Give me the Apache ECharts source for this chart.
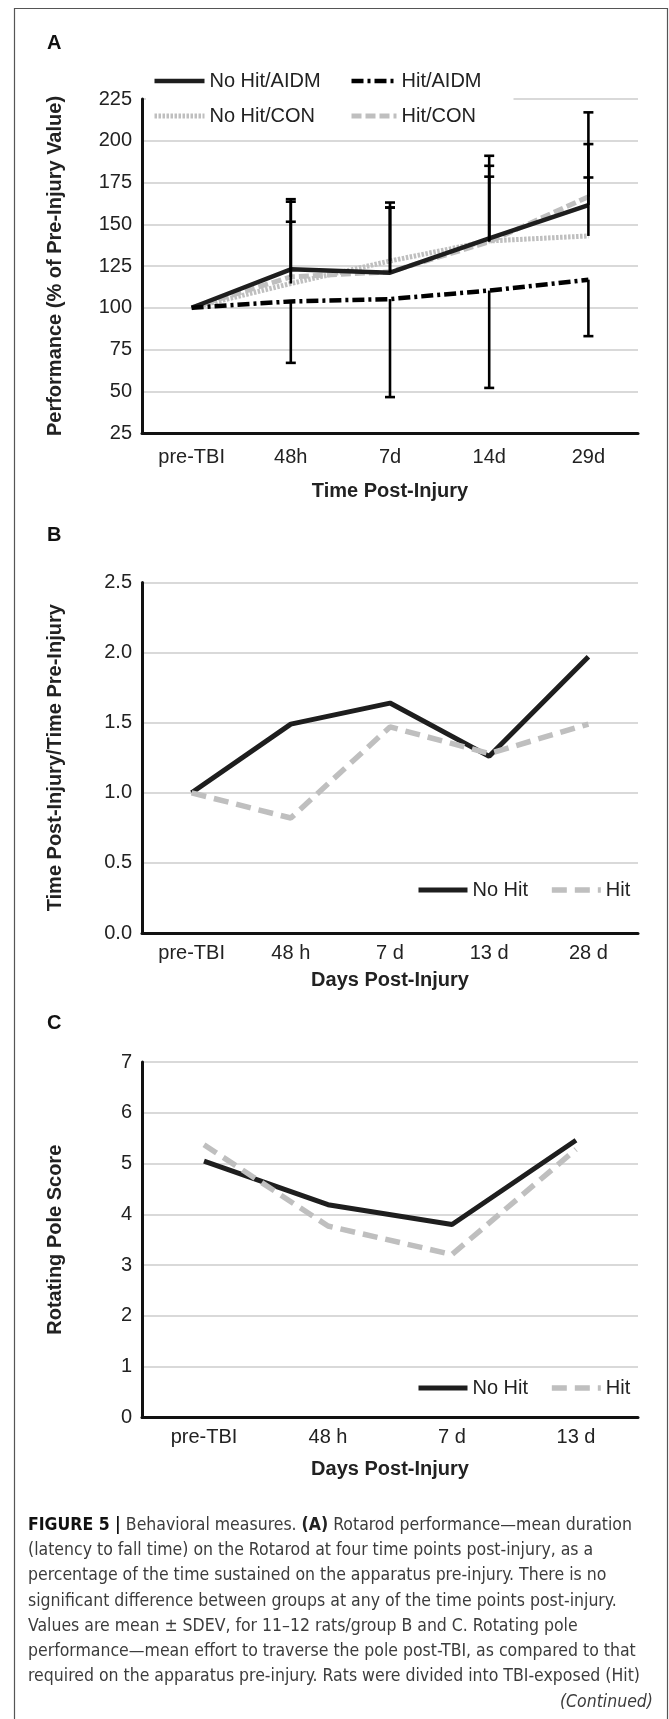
<!DOCTYPE html>
<html>
<head>
  <meta charset="utf-8" />
  <title>Figure 5</title>
  <script src="https://cdn.jsdelivr.net/npm/echarts@6.0.0/dist/echarts.min.js"></script>
  <style>
    html, body { margin: 0; padding: 0; background: #fff; }
    #main { width: 669px; height: 1719px; }
  </style>
</head>
<body>
  <div id="main"></div>
  <script>
    // ---- panel A : rotarod ----
    var catsA = ['pre-TBI', '48h', '7d', '14d', '29d'];
    var noHitAIDM = [100, 123, 121, 141.5, 161.5];
    var hitAIDM = [100, 103.8, 105.2, 110.3, 116.8];
    var noHitCON = [100, 114.5, 128, 140, 143];
    var hitCON = [100, 118.5, 121.5, 139.5, 166.5];
    // error bar end points (one-sided, as drawn)
    var capNoHitAIDM = [null, 165, 163, 191, 217];
    var capHitCON = [null, 163.5, 160, 185, 198];
    var capNoHitCON = [null, 151.5, 160, 178.5, 178];
    var capHitAIDM = [null, 67, 46.5, 52, 83];

    // ---- panel B : time ratio ----
    var catsB = ['pre-TBI', '48 h', '7 d', '13 d', '28 d'];
    var noHitB = [1.0, 1.49, 1.64, 1.26, 1.97];
    var hitB = [1.0, 0.82, 1.47, 1.28, 1.49];

    // ---- panel C : rotating pole ----
    var catsC = ['pre-TBI', '48 h', '7 d', '13 d'];
    var noHitC = [5.05, 4.19, 3.8, 5.46];
    var hitC = [5.37, 3.77, 3.21, 5.28];

    var captionLines = [
      '{b|FIGURE 5 |} Behavioral measures. {b2|(A)} Rotarod performance\u2014mean duration',
      '(latency to fall time) on the Rotarod at four time points post-injury, as a',
      'percentage of the time sustained on the apparatus pre-injury. There is no',
      'significant difference between groups at any of the time points post-injury.',
      'Values are mean \u00b1 SDEV, for 11\u201312 rats/group B and C. Rotating pole',
      'performance\u2014mean effort to traverse the pole post-TBI, as compared to that',
      'required on the apparatus pre-injury. Rats were divided into TBI-exposed (Hit)'
    ];

    var BLACK = '#1e1e1e';
    var GRAY = '#bfbfbf';
    var FONT = '"Liberation Sans", Arial, sans-serif';
    var CAPFONT = '"Liberation Sans Narrow", "DejaVu Sans Condensed", sans-serif';

    function errData(means, caps) {
      var out = [];
      for (var i = 0; i < means.length; i++) {
        if (caps[i] != null) out.push([i, means[i], caps[i]]);
      }
      return out;
    }

    function renderErr(params, api) {
      var p0 = api.coord([api.value(0), api.value(1)]);
      var p1 = api.coord([api.value(0), api.value(2)]);
      var st = { stroke: '#000', lineWidth: 2.6 };
      return {
        type: 'group',
        children: [
          { type: 'line', shape: { x1: p0[0], y1: p0[1], x2: p1[0], y2: p1[1] }, style: st },
          { type: 'line', shape: { x1: p1[0] - 5, y1: p1[1], x2: p1[0] + 5, y2: p1[1] }, style: st }
        ]
      };
    }

    function xAx(grid, cats, margin, nameGap, name) {
      return {
        gridIndex: grid, type: 'category', data: cats, boundaryGap: true,
        axisLine: { lineStyle: { color: '#111', width: 3 } },
        axisTick: { show: false },
        axisLabel: { color: '#222', fontSize: 20, fontFamily: FONT, margin: margin },
        name: name, nameLocation: 'middle', nameGap: nameGap,
        nameTextStyle: { color: '#222', fontSize: 20, fontWeight: 'bold', fontFamily: FONT }
      };
    }

    function yAx(grid, min, max, step, name, fmt) {
      return {
        gridIndex: grid, type: 'value', min: min, max: max, interval: step,
        axisLine: { show: true, lineStyle: { color: '#111', width: 3 } },
        axisTick: { show: false },
        splitLine: { lineStyle: { color: '#d9d9d9', width: 2 } },
        axisLabel: { color: '#222', fontSize: 20, fontFamily: FONT, margin: 10, formatter: fmt },
        name: name, nameLocation: 'middle', nameGap: 77,
        nameTextStyle: { color: '#222', fontSize: 20, fontWeight: 'bold', fontFamily: FONT }
      };
    }

    function lineSeries(name, data, xi, color, width, type) {
      return {
        name: name, type: 'line', xAxisIndex: xi, yAxisIndex: xi, data: data,
        symbol: 'none', silent: true,
        lineStyle: { color: color, width: width, type: type },
        itemStyle: { color: color }
      };
    }

    var legendText = { color: '#222', fontSize: 20, fontFamily: FONT, lineHeight: 20 };
    // hide the marker circle in legend icons, keep only the line (full series width)
    var noMarker = { opacity: 0 };
    var legLine = { width: 'inherit' };

    var graphics = [
      { type: 'rect', shape: { x: 14.5, y: 8.5, width: 653, height: 1730 },
        style: { fill: null, stroke: '#555', lineWidth: 1.2 }, z: 100 },
      { type: 'text', style: { x: 47, y: 43, text: 'A', font: 'bold 20px ' + FONT, fill: '#111', verticalAlign: 'middle' } },
      { type: 'text', style: { x: 47, y: 535, text: 'B', font: 'bold 20px ' + FONT, fill: '#111', verticalAlign: 'middle' } },
      { type: 'text', style: { x: 47, y: 1023, text: 'C', font: 'bold 20px ' + FONT, fill: '#111', verticalAlign: 'middle' } }
    ];
    var capY = [1525, 1550, 1575, 1601, 1626, 1651, 1676];
    captionLines.forEach(function (t, i) {
      graphics.push({
        type: 'text',
        style: {
          x: 28, y: capY[i], text: t, verticalAlign: 'middle',
          font: '17.5px ' + CAPFONT, fill: '#3c3c3c',
          rich: {
            b: { font: 'bold 17.5px ' + CAPFONT, fill: '#111' },
            b2: { font: 'bold 17.5px ' + CAPFONT, fill: '#222' }
          }
        }
      });
    });
    graphics.push({
      type: 'text',
      style: { x: 653, y: 1702, text: '(Continued)', align: 'right', verticalAlign: 'middle',
        font: 'italic 17.5px ' + CAPFONT, fill: '#3c3c3c' }
    });

    var chart = echarts.init(document.getElementById('main'), null, { renderer: 'canvas' });
    chart.setOption({
      animation: false,
      backgroundColor: '#fff',
      grid: [
        { left: 142, right: 31, top: 99, height: 334 },
        { left: 142, right: 31, top: 582.5, height: 350.5 },
        { left: 142, right: 31, top: 1062, height: 355.5 }
      ],
      xAxis: [
        xAx(0, catsA, 14, 48, 'Time Post-Injury'),
        xAx(1, catsB, 10, 37, 'Days Post-Injury'),
        xAx(2, catsC, 10, 42, 'Days Post-Injury')
      ],
      yAxis: [
        yAx(0, 25, 225, 25, 'Performance (% of Pre-Injury Value)'),
        yAx(1, 0, 2.5, 0.5, 'Time Post-Injury/Time Pre-Injury', function (v) { return v.toFixed(1); }),
        yAx(2, 0, 7, 1, 'Rotating Pole Score')
      ],
      legend: [
        { data: ['No Hit/AIDM', 'No Hit/CON'], orient: 'vertical', left: 146, top: 67,
          padding: [4, 30, 4, 6], itemWidth: 50, itemHeight: 14, itemGap: 15,
          itemStyle: noMarker, lineStyle: legLine, backgroundColor: '#fff', textStyle: legendText },
        { data: ['Hit/AIDM', 'Hit/CON'], orient: 'vertical', left: 343, top: 67,
          padding: [4, 32, 4, 6], itemWidth: 45, itemHeight: 14, itemGap: 15,
          itemStyle: noMarker, lineStyle: legLine, backgroundColor: '#fff', textStyle: legendText },
        { data: ['No Hit', 'Hit'], left: 416, top: 880, padding: 0,
          itemWidth: 49, itemHeight: 14, itemGap: 21, itemStyle: noMarker, lineStyle: legLine, textStyle: legendText },
        { data: ['No Hit', 'Hit'], left: 416, top: 1378, padding: 0,
          itemWidth: 49, itemHeight: 14, itemGap: 21, itemStyle: noMarker, lineStyle: legLine, textStyle: legendText }
      ],
      graphic: graphics,
      series: [
        lineSeries('No Hit/CON', noHitCON, 0, GRAY, 5, [2.5, 1.5]),
        lineSeries('Hit/CON', hitCON, 0, GRAY, 5, [10, 4]),
        lineSeries('No Hit/AIDM', noHitAIDM, 0, BLACK, 4.5, 'solid'),
        lineSeries('Hit/AIDM', hitAIDM, 0, '#000', 4.5, [12, 4, 3, 4]),
        { type: 'custom', xAxisIndex: 0, yAxisIndex: 0, renderItem: renderErr, silent: true,
          data: errData(noHitAIDM, capNoHitAIDM).concat(errData(hitCON, capHitCON),
            errData(noHitCON, capNoHitCON), errData(hitAIDM, capHitAIDM)), z: 5 },

        lineSeries('No Hit', noHitB, 1, BLACK, 5, 'solid'),
        lineSeries('Hit', hitB, 1, GRAY, 5.5, [15, 8]),

        lineSeries('No Hit', noHitC, 2, BLACK, 5, 'solid'),
        lineSeries('Hit', hitC, 2, GRAY, 5.5, [15, 8])
      ]
    });
  </script>
</body>
</html>
